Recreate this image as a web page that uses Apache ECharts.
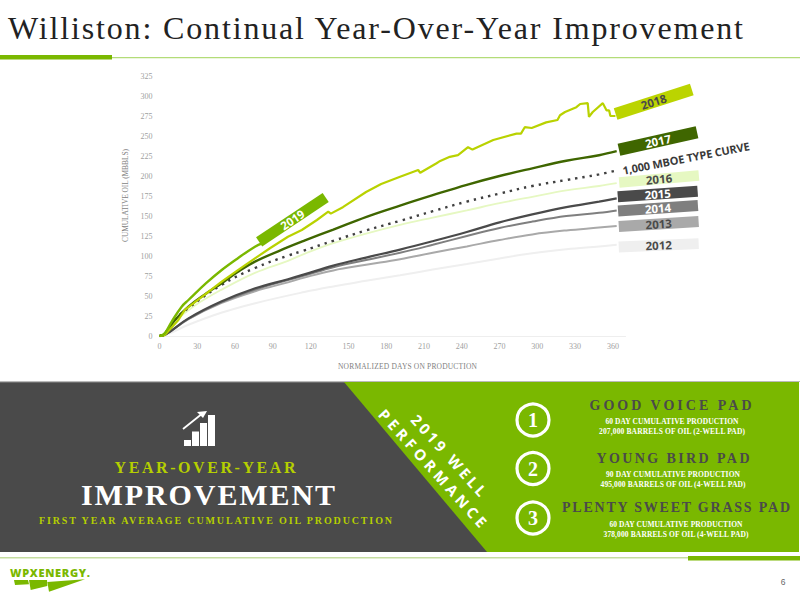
<!DOCTYPE html>
<html><head><meta charset="utf-8">
<style>html,body{margin:0;padding:0;background:#fff}#c{width:800px;height:600px}</style>
<script src="https://cdn.jsdelivr.net/npm/echarts@6/dist/echarts.min.js"></script></head>
<body><div id="c"></div>
<script>
const xTicks = [0,30,60,90,120,150,180,210,240,270,300,330,360];
const yTicks = [0,25,50,75,100,125,150,175,200,225,250,275,300,325];
const s2019 = [[0,0],[4,3],[9.7,18],[17.6,36.7],[23,45],[37,66],[49.4,82.5],[62,97],[75.8,111.6],[82,116]];
const s2018 = [[0,0],[4,1],[15,20],[20,32.5],[23,36],[37,53],[49.4,68],[62,82],[75.8,97],[88,110],[102,124],[113,132.5],[125,145],[134,155.4],[136,153],[145.6,161],[164,180],[176,190],[191,199],[205.4,207.5],[207,204],[220,216],[222,218],[230.5,224],[237,226],[245,236],[248.5,233],[265,245],[283.5,253],[287,253],[290,261],[295.5,260],[307,267],[316,270],[318,276],[322,280],[331,286],[334,290],[340,291],[341,274],[344,280],[352,291],[355,282],[357,282],[358,275],[362,275]];
const s2017 = [[0,0],[4,2],[12.3,20],[23,36.7],[36,52],[49.4,66],[62,80],[75.8,93],[102,111],[115.5,119.5],[138,133],[164.4,149],[191,163],[217,176],[244,189],[270,200],[296,209.6],[323,219],[349,226],[363,231]];
const sType = [[0,0],[5,5],[12,20],[23,35],[49.4,64],[75.8,85],[102,100.5],[113,106],[138,119],[164,132],[191,144],[217,156],[244,168],[270,178],[296,187.5],[323,195],[349,202],[363,207]];
const s2016 = [[0,0],[5,5],[12,18],[27,37],[49.4,58],[75.8,79],[102,94],[115.5,103],[138,116],[164,128],[191,139],[217,148],[244,157],[270,166],[296,174],[323,182],[349,187.5],[363,191]];
const s2015 = [[0,0],[5,2],[23,22],[49,43],[76,59.6],[102,71],[115,77],[138,88],[164,98],[191,108],[217,118.5],[244,130],[270,142],[296,152],[323,161],[349,168],[363,172]];
const s2014 = [[0,0],[5,2],[23,21.5],[49,42],[76,58],[102,70],[115,75.5],[138,86],[164,95],[191,104],[217,114],[244,125],[270,135],[296,143],[323,150],[349,154],[363,157]];
const s2013 = [[0,0],[5,2],[23,21],[49,41],[76,56],[102,67],[115,73],[138,82],[164,89],[191,96],[217,104],[244,112],[270,120],[296,127],[323,132],[349,135.5],[363,137.5]];
const s2012 = [[0,0],[6,2],[23,14],[49,29],[76,41],[115,55],[138,62],[164,69],[191,76],[217,83],[244,90],[270,97],[296,103.5],[323,108.5],[349,112],[363,114]];
const titleText = 'Williston: Continual Year-Over-Year Improvement';
const SERIF = '"Liberation Serif"', SANS = '"Open Sans"';
const GREEN = '#7ab800', DARK = '#4a4a4a', LIME = '#b5cf00';

// target widths of widely tracked text, in px
const tracked = {
  [titleText]: 735,
  'YEAR-OVER-YEAR': 181,
  'IMPROVEMENT': 254,
  'FIRST YEAR AVERAGE CUMULATIVE OIL PRODUCTION': 353,
  'GOOD VOICE PAD': 162,
  'YOUNG BIRD PAD': 153,
  'PLENTY SWEET GRASS PAD': 228,
  '60 DAY CUMULATIVE PRODUCTION': 133,
  '207,000 BARRELS OF OIL (2-WELL PAD)': 146,
  '90 DAY CUMULATIVE PRODUCTION': 134,
  '495,000 BARRELS OF OIL (4-WELL PAD)': 145,
  '378,000 BARRELS OF OIL (4-WELL PAD)': 145,
  'NORMALIZED DAYS ON PRODUCTION': 139,
  'CUMULATIVE OIL (MBBLS)': 93,
  '2019 WELL': 104,
  'PERFORMANCE': 153,
  '1,000 MBOE TYPE CURVE': 129,
  'WPXENERGY.': 80
};

function T(text,x,y,size,fill,opt){opt=opt||{};return {type:'text',z:opt.z||5,x:x,y:y,rotation:opt.rot||0,style:{text:text,x:0,y:0,align:opt.align||'center',verticalAlign:'middle',font:(opt.weight||'bold')+' '+size+'px '+(opt.family||SERIF),fill:fill}};}
function R(x,y,w,h,fill,z){return {type:'rect',z:z||1,shape:{x:x,y:y,width:w,height:h},style:{fill:fill}};}
function P(pts,fill,z){return {type:'polygon',z:z||2,shape:{points:pts},style:{fill:fill}};}
function tag(text,cx,cy,h,deg,fill,color){return {type:'group',z:6,x:cx,y:cy,rotation:deg*Math.PI/180,children:[
  {type:'rect',z:6,shape:{x:-40,y:-h/2,width:80,height:h},style:{fill:fill}},
  {type:'text',z:7,style:{text:text,x:0,y:0,align:'center',verticalAlign:'middle',font:'bold 11.5px '+SANS,fill:color}}]};}
function circle(n,cy){return [{type:'circle',z:3,shape:{cx:533,cy:cy,r:16},style:{fill:'none',stroke:'#fff',lineWidth:3.2}},T(n,533,cy,20,'#fff')];}

const graphics = [
  T(titleText,8,28,32,'#222',{align:'left',weight:'normal'}),
  R(0,57,800,1.2,'#b3dc78'), R(0,55,112,4.5,GREEN),
  R(0,382,800,170,DARK),
  P([[344,382],[800,382],[800,552],[487,552]],GREEN),
  R(0,381.5,800,1.2,'#777',0),
  R(0,557,800,1.4,'#c5dd9f'), R(688,556,112,4.5,GREEN),
  R(799,382,1,170,'#fff',3),
  // icon
  R(184,440,7,6,'#fff'),R(192,431.5,7,14.5,'#fff'),R(200,423,7,23,'#fff'),R(208,415,7,31,'#fff'),
  {type:'line',z:3,shape:{x1:183,y1:429,x2:203,y2:413},style:{stroke:'#fff',lineWidth:1.8}},
  P([[197,412],[207,411],[203,418]],'#fff',3),
  T('YEAR-OVER-YEAR',205,467.5,16,LIME),
  T('IMPROVEMENT',208,494,30,'#fff'),
  T('FIRST YEAR AVERAGE CUMULATIVE OIL PRODUCTION',215.5,520,10,LIME),
  T('2019 WELL',449,455,15,'#fff',{family:SANS,rot:-48*Math.PI/180}),
  T('PERFORMANCE',433,468,15,'#fff',{family:SANS,rot:-48*Math.PI/180}),
  ...circle('1',420),...circle('2',468.5),...circle('3',518),
  T('GOOD VOICE PAD',670.5,405,14,DARK),
  T('60 DAY CUMULATIVE PRODUCTION',672,421,7.5,'#fff'),
  T('207,000 BARRELS OF OIL (2-WELL PAD)',672,431,7.5,'#fff'),
  T('YOUNG BIRD PAD',673,458,14,DARK),
  T('90 DAY CUMULATIVE PRODUCTION',673,474,7.5,'#fff'),
  T('495,000 BARRELS OF OIL (4-WELL PAD)',673,484,7.5,'#fff'),
  T('PLENTY SWEET GRASS PAD',676,507,14,DARK),
  T('60 DAY CUMULATIVE PRODUCTION',676,524,7.5,'#fff'),
  T('378,000 BARRELS OF OIL (4-WELL PAD)',676,534,7.5,'#fff'),
  // logo
  T('WPXENERGY.',10,572,11,GREEN,{align:'left',family:SANS,weight:'800'}),
  P([[14,580],[28,580],[29,584.3],[15,585]],GREEN),
  P([[29,580],[47,580],[47.3,586],[30.7,590]],GREEN),
  P([[47.3,582],[85,579.3],[49,591.7]],GREEN),
  T('6',783,582,8.5,'#666',{weight:'normal',family:'"Liberation Sans"'}),
  // chart tags
  tag('2019',292.4,219.7,11,33.7,GREEN,'#fff'),
  tag('2018',653.7,101.7,12,17.8,'#bbd400',DARK),
  tag('2017',658,141,12.3,12.5,'#3f6600','#fff'),
  T('1,000 MBOE TYPE CURVE',686,158,11,'#3a3a3a',{family:SANS,rot:11*Math.PI/180,z:7}),
  tag('2016',659,179,10.5,5,'#e6f8c2',DARK),
  tag('2015',657.7,194,11,4,'#4a4a4a','#fff'),
  tag('2014',658,208.3,11,4,'#7f7f7f','#fff'),
  tag('2013',658.7,224,11,3.5,'#a9a9a9',DARK),
  tag('2012',658.7,245.3,11,2.4,'#efefef',DARK)
];

function line(name,data,color,w,dash,smooth){return {name:name,type:'line',data:data,showSymbol:false,symbol:'none',smooth:smooth===undefined?0.4:smooth,silent:true,
  lineStyle:{color:color,width:w,type:dash||'solid'}};}
const chart = echarts.init(document.getElementById('c'),null,{renderer:'svg',width:800,height:600});
chart.setOption({
  animation:false, backgroundColor:'#fff',
  grid:{left:159.5,top:76,width:466,height:260,containLabel:false},
  xAxis:{type:'value',min:0,max:370,interval:30,
    name:'NORMALIZED DAYS ON PRODUCTION',nameLocation:'middle',nameGap:26,
    nameTextStyle:{fontFamily:SERIF,fontSize:7.5,color:'#7f7f7f',padding:[0,0,0,30]},
    axisLine:{show:true,lineStyle:{color:'#eeeeee',width:1}},axisTick:{show:false},splitLine:{show:false},
    axisLabel:{fontFamily:SERIF,fontSize:8,color:'#a0a0a0',margin:6,showMaxLabel:false,
      formatter:v=>xTicks.includes(v)?String(v):''}},
  yAxis:{type:'value',min:0,max:325,interval:25,
    name:'CUMULATIVE OIL (MBBLS)',nameLocation:'middle',nameGap:30,
    nameTextStyle:{fontFamily:SERIF,fontSize:7.5,color:'#7f7f7f',padding:[0,0,0,21]},
    axisLine:{show:false},axisTick:{show:false},splitLine:{show:false},
    axisLabel:{fontFamily:SERIF,fontSize:8,color:'#a0a0a0',margin:7,
      formatter:v=>yTicks.includes(v)?String(v):''}},
  series:[
    line('2012',s2012,'#efefef',2),
    line('2013',s2013,'#a9a9a9',2),
    line('2014',s2014,'#7f7f7f',2),
    line('2015',s2015,'#4a4a4a',2.2),
    line('2016',s2016,'#e6f8c2',1.8),
    line('1,000 MBOE Type Curve',sType,'#404040',2.4,[2.4,5]),
    line('2017',s2017,'#3f6600',2.4),
    line('2018',s2018,'#b9d200',2.2,null,false),
    line('2019',s2019,'#7ab800',2.4)
  ],
  graphic:{elements:graphics}
});
// apply tracked widths to the real text nodes
document.querySelectorAll('#c svg text').forEach(t=>{
  const w = tracked[t.textContent.trim()];
  if(w){t.setAttribute('textLength',w);t.setAttribute('lengthAdjust','spacing');}
});
</script></body></html>
